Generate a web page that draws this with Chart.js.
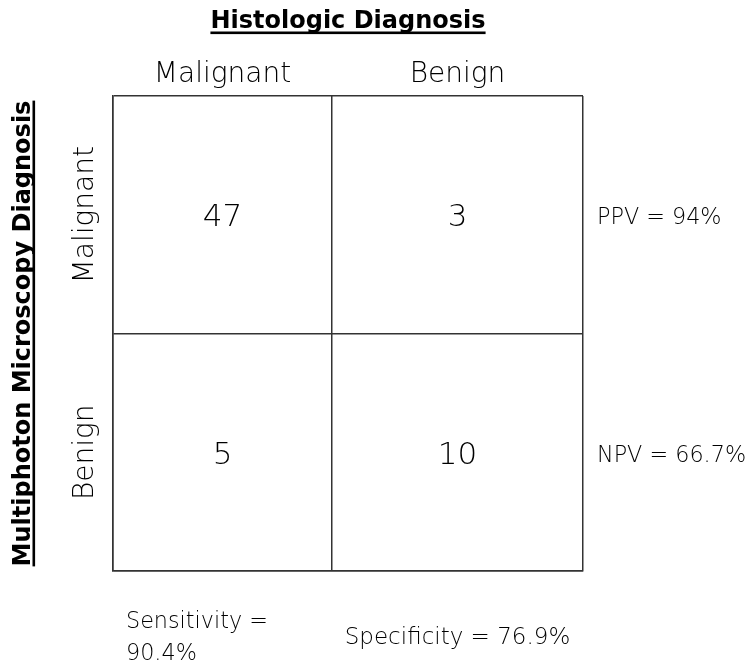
<!DOCTYPE html>
<html><head><meta charset="utf-8">
<script src="https://cdn.jsdelivr.net/npm/chart.js@4.4.0/dist/chart.umd.min.js"></script>
<style>html,body{margin:0;padding:0;background:#fff}canvas{display:block}</style>
</head><body>
<canvas id="c" width="750" height="668"></canvas>
<script>
// ---- data ----
const histologicLabels = ['Malignant', 'Benign'];      // columns
const multiphotonLabels = ['Malignant', 'Benign'];     // rows
const countsMalignantRow = [47, 3];
const countsBenignRow = [5, 10];
const rowStats = ['PPV = 94%', 'NPV = 66.7%'];
const sensitivityText = ['Sensitivity =', '90.4%'];
const specificityText = ['Specificity = 76.9%'];
const xTitle = 'Histologic Diagnosis';
const yTitle = 'Multiphoton Microscopy Diagnosis';

// ---- layout ----
const colEdges = [0, 1, 2.146];
const rowEdges = [0, 1, 2];
const FONT = '"DejaVu Sans", sans-serif';
const LIGHT = '200';
const TEXT = '#000000';
const LINE = '#333333';

const counts = [countsMalignantRow, countsBenignRow];
const points = [];
counts.forEach((row, r) => row.forEach((v, c) => {
  points.push({ x: (colEdges[c] + colEdges[c + 1]) / 2, y: (rowEdges[r] + rowEdges[r + 1]) / 2, v });
}));

const textPlugin = {
  id: 'matrixText',
  afterDraw(chart) {
    const ctx = chart.ctx, ca = chart.chartArea;
    const xs = chart.scales.x, ys = chart.scales.y;
    ctx.save();
    ctx.fillStyle = TEXT;
    ctx.textBaseline = 'alphabetic';

    // cell counts
    ctx.font = `${LIGHT} 31px ${FONT}`;
    ctx.textAlign = 'center';
    chart.getDatasetMeta(0).data.forEach((el, i) => {
      ctx.fillText(String(points[i].v), el.x, el.y + 11.5);
    });

    // column headers
    ctx.font = `${LIGHT} 28px ${FONT}`;
    histologicLabels.forEach((lab, c) => {
      const cx = xs.getPixelForValue((colEdges[c] + colEdges[c + 1]) / 2);
      ctx.fillText(lab, cx, ca.top - 14);
    });

    // row headers (rotated)
    multiphotonLabels.forEach((lab, r) => {
      const cy = ys.getPixelForValue((rowEdges[r] + rowEdges[r + 1]) / 2);
      ctx.save();
      ctx.translate(ca.left - 20, cy);
      ctx.rotate(-Math.PI / 2);
      ctx.fillText(lab, 0, 0);
      ctx.restore();
    });

    // x title (bold, underlined)
    ctx.font = `bold 24px ${FONT}`;
    const tx = (ca.left + ca.right) / 2, tyb = ca.top - 68;
    ctx.fillText(xTitle, tx, tyb);
    let w = ctx.measureText(xTitle).width;
    ctx.fillRect(tx - w / 2, tyb + 3.5, w, 2.6);

    // y title
    ctx.save();
    ctx.translate(30, (ca.top + ca.bottom) / 2);
    ctx.rotate(-Math.PI / 2);
    ctx.fillText(yTitle, 0, 0);
    w = ctx.measureText(yTitle).width;
    ctx.fillRect(-w / 2, 2.5, w, 2.6);
    ctx.restore();

    // right stats
    ctx.font = `${LIGHT} 22.3px ${FONT}`;
    ctx.textAlign = 'left';
    rowStats.forEach((s, r) => {
      const cy = ys.getPixelForValue((rowEdges[r] + rowEdges[r + 1]) / 2);
      ctx.fillText(s, ca.right + 14, cy + 9.5);
    });

    // bottom stats
    const c0 = xs.getPixelForValue(colEdges[0]);
    sensitivityText.forEach((s, i) => ctx.fillText(s, c0 + 13, ca.bottom + 57 + i * 32));
    ctx.textAlign = 'center';
    ctx.font = `${LIGHT} 23px ${FONT}`;
    const c1 = xs.getPixelForValue((colEdges[1] + colEdges[2]) / 2);
    specificityText.forEach((s) => ctx.fillText(s, c1, ca.bottom + 73));
    ctx.restore();
  }
};

new Chart(document.getElementById('c'), {
  type: 'scatter',
  data: { datasets: [{ data: points, pointRadius: 0, pointHoverRadius: 0 }] },
  options: {
    responsive: false,
    animation: false,
    devicePixelRatio: 1,
    events: [],
    layout: { padding: { left: 113, top: 96, right: 167, bottom: 97 } },
    plugins: { legend: { display: false }, tooltip: { enabled: false } },
    scales: {
      x: {
        type: 'linear', min: colEdges[0], max: colEdges[colEdges.length - 1],
        afterBuildTicks: (s) => { s.ticks = colEdges.map(v => ({ value: v })); },
        ticks: { display: false },
        grid: { drawTicks: false, color: LINE, lineWidth: 1.5 },
        border: { display: true, color: LINE, width: 1.5 }
      },
      y: {
        type: 'linear', reverse: true, min: rowEdges[0], max: rowEdges[rowEdges.length - 1],
        afterBuildTicks: (s) => { s.ticks = rowEdges.map(v => ({ value: v })); },
        ticks: { display: false },
        grid: { drawTicks: false, color: LINE, lineWidth: 1.5 },
        border: { display: true, color: LINE, width: 1.5 }
      }
    }
  },
  plugins: [textPlugin]
});
</script>
</body></html>
